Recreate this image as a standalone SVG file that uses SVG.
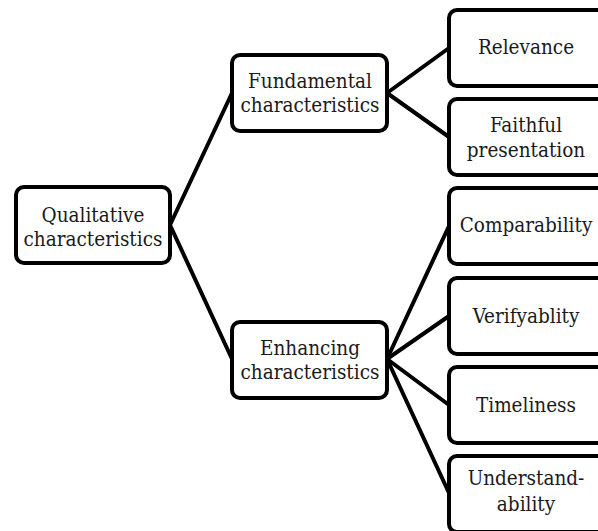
<svg xmlns="http://www.w3.org/2000/svg" width="598" height="531" viewBox="0 0 598 531">
<style>
.box{fill:#fff;stroke:#000;stroke-width:4;}
.t{font-family:"DejaVu Serif",serif;font-stretch:condensed;font-size:20.5px;fill:#1a1a1a;text-anchor:middle;}
.c{stroke:#000;stroke-width:4;fill:none;stroke-linecap:round;}
</style>
<rect width="598" height="531" fill="#fff"/>
<g id="connectors">
<line class="c" x1="170" y1="225" x2="232" y2="93"/>
<line class="c" x1="170" y1="225" x2="232" y2="359"/>
<line class="c" x1="387" y1="93" x2="449" y2="48"/>
<line class="c" x1="387" y1="93" x2="449" y2="137"/>
<line class="c" x1="387" y1="359" x2="449" y2="226"/>
<line class="c" x1="387" y1="359" x2="449" y2="316"/>
<line class="c" x1="387" y1="359" x2="449" y2="405"/>
<line class="c" x1="387" y1="359" x2="449" y2="493"/>
</g>
<g id="qualitative">
<rect class="box" x="16" y="187" width="154" height="76" rx="8"/>
<text class="t" x="93" y="222">Qualitative</text>
<text class="t" x="93" y="246">characteristics</text>
</g>
<g id="fundamental">
<rect class="box" x="232" y="55" width="155" height="76" rx="8"/>
<text class="t" x="310" y="88">Fundamental</text>
<text class="t" x="310" y="112">characteristics</text>
</g>
<g id="enhancing">
<rect class="box" x="232" y="322" width="155" height="76" rx="8"/>
<text class="t" x="310" y="355">Enhancing</text>
<text class="t" x="310" y="379">characteristics</text>
</g>
<g id="relevance">
<rect class="box" x="449" y="10" width="156" height="76" rx="8"/>
<text class="t" x="526" y="54">Relevance</text>
</g>
<g id="faithful">
<rect class="box" x="449" y="99" width="156" height="76" rx="8"/>
<text class="t" x="526" y="132">Faithful</text>
<text class="t" x="526" y="157">presentation</text>
</g>
<g id="comparability">
<rect class="box" x="449" y="188" width="156" height="76" rx="8"/>
<text class="t" x="526" y="232">Comparability</text>
</g>
<g id="verifyablity">
<rect class="box" x="449" y="278" width="156" height="76" rx="8"/>
<text class="t" x="526" y="323">Verifyablity</text>
</g>
<g id="timeliness">
<rect class="box" x="449" y="367" width="156" height="76" rx="8"/>
<text class="t" x="526" y="412">Timeliness</text>
</g>
<g id="understandability">
<rect class="box" x="449" y="456" width="156" height="76" rx="8"/>
<text class="t" x="526" y="485">Understand-</text>
<text class="t" x="526" y="511">ability</text>
</g>
</svg>
